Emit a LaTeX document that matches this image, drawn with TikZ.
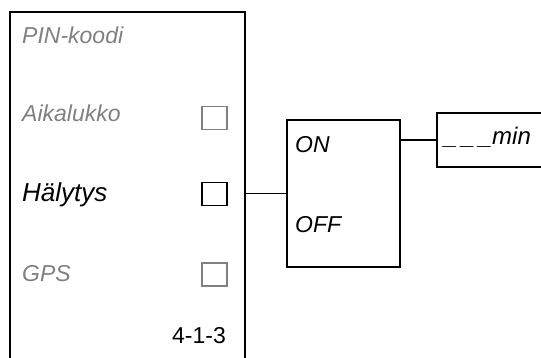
\documentclass[tikz,border=0pt]{standalone}
\usepackage{fontspec}
\setmainfont{Liberation Sans}
\usetikzlibrary{positioning}
\definecolor{dimgray}{HTML}{808080}
\tikzset{
  menutext/.style={anchor=base west, inner sep=0pt, font=\fontsize{23}{27}\selectfont\itshape},
  chkbox/.style={draw, line width=1.6pt, minimum width=25pt, minimum height=23pt, inner sep=0pt},
  frame/.style={draw, line width=1.8pt, inner sep=0pt},
  wire/.style={line width=1.6pt}
}
\begin{document}
\begin{tikzpicture}[x=1pt, y=-1pt, line join=miter]
  \useasboundingbox (0,0) rectangle (541,358);
  \clip (0,0) rectangle (541,358);
  % Valikko (alareuna jää kuvan ulkopuolelle)
  \node[frame, minimum width=235pt, minimum height=363pt] (panel) at (127.5,193.5) {};
  % Valikon rivit
  \node[menutext, dimgray] (pin) at (22,44) {PIN-koodi};
  \node[menutext, dimgray] (aika) at (22,122) {Aikalukko};
  \node[menutext, font=\fontsize{26}{30}\selectfont\itshape] (hal) at (22,202) {Hälytys};
  \node[menutext, dimgray] (gps) at (22,281) {GPS};
  \node[anchor=base east, inner sep=0pt, font=\fontsize{23}{27}\selectfont] (code) at (226,343) {4-1-3};
  % Valintaruudut
  \node[chkbox, dimgray] (aikabox) at (214.5,118) {};
  \node[chkbox] (halbox) at (214.5,194) {};
  \node[chkbox, dimgray] (gpsbox) at (214.5,274.5) {};
  % ON/OFF-valinta
  \node[frame, minimum width=113pt, minimum height=147pt] (onoff) at (343.5,193.5) {};
  \node[menutext] (on) at (295,153) {ON};
  \node[menutext] (off) at (295,233) {OFF};
  % Minuuttikenttä (oikea reuna jää kuvan ulkopuolelle)
  \node[frame, minimum width=140pt, minimum height=54pt] (minbox) at (507,140) {};
  \node[menutext, font=\fontsize{24}{28}\selectfont\itshape] (mins) at (444,145)
    {\_\kern4pt\_\kern4pt\_\kern0pt min};
  % Yhdysviivat
  \draw[wire] (panel.east) -- (onoff.west);
  \draw[wire] (onoff.east |- minbox.west) -- (minbox.west);
\end{tikzpicture}
\end{document}
